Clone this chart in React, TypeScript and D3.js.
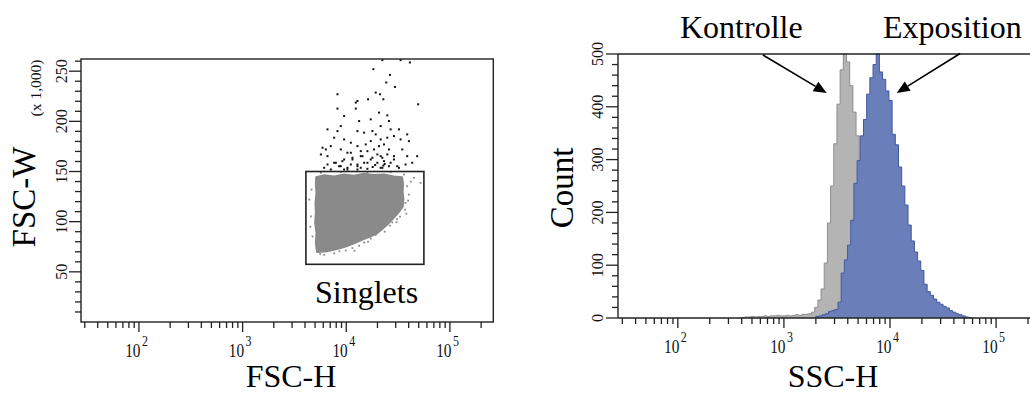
import React from "react";
import * as d3 from "d3";

const FONT = '"Liberation Serif", "Times New Roman", Times, serif';
const W = 1030;
const H = 396;

// ---- FSC-H vs FSC-W dot plot -------------------------------------------
// Dense singlet population, outlined as [FSC-H, FSC-W]
const singletOutline: [number, number][] = [
  [5100, 144500], [6124, 146500], [7640, 145300], [9530, 147300], [11900, 146000],
  [14860, 148000], [18540, 146700], [23120, 147300], [28850, 145300], [34700, 144500],
  [35500, 138000], [35200, 130000], [35800, 122000], [35200, 114600], [32500, 110000],
  [29400, 104700], [25000, 97000], [20200, 88700], [17000, 85000], [14150, 81700],
  [11800, 78000], [9700, 74700], [7800, 72000], [6220, 70000], [5200, 69500],
  [5060, 78700], [5130, 88700], [4980, 98700], [5060, 108700], [5020, 118700],
  [5130, 128700], [5060, 137000],
];

// Sparse singlet events around the dense core
const singletSpeckles: [number, number][] = [
  [38730, 135300], [40180, 127000], [37330, 118700], [36900, 112000], [33050, 105000],
  [27800, 99300], [26400, 96000], [21480, 91700], [19230, 86700], [17220, 83300],
  [14860, 79300], [13300, 76000], [11480, 73700], [9900, 71300], [7640, 68500],
  [6124, 67000], [4560, 105300], [4730, 85300], [4400, 122000], [5690, 148700],
  [8850, 149300], [16000, 149500], [26790, 149300], [44980, 143700], [52120, 138700],
  [38000, 108000], [30500, 99500], [23500, 90000], [4500, 95000], [4620, 132000],
  [42000, 140000], [36000, 147000], [12000, 71000], [16200, 80000], [39500, 121000],
  [31000, 102500], [8600, 70500], [5600, 67800],
];

// Doublet events above the gate
const doubletEvents: [number, number][] = [
  [22290, 261000], [33440, 261000], [41100, 258700], [18280, 252000], [26400, 246300],
  [24320, 238700], [29500, 234300], [8226, 227000], [19240, 228700], [21170, 227000],
  [12820, 220300], [12360, 218700], [16220, 222000], [22790, 222000], [49400, 217000],
  [8226, 212700], [12360, 212700], [20700, 208700], [24880, 206000], [17220, 202000],
  [9537, 205300], [6590, 192000], [8857, 195300], [8226, 190300], [13310, 200300],
  [12820, 190300], [14860, 188700], [17870, 190300], [21480, 195300], [25810, 200300],
  [26790, 192000], [32230, 192000], [38730, 187000], [40190, 180300], [33440, 182000],
  [28850, 185300], [24880, 183700], [21480, 182000], [19240, 187000], [17220, 180300],
  [15420, 177000], [12820, 175300], [11070, 178700], [9537, 182000], [7640, 183700],
  [6353, 172000], [5902, 173700], [7096, 175300], [8857, 172000], [10260, 168700],
  [9537, 162000], [11480, 163700], [13800, 165300], [16000, 170300], [18540, 172000],
  [20700, 175300], [23120, 177000], [25810, 172000], [22290, 163700], [28850, 165300],
  [34700, 172000], [38730, 165300], [48310, 165300], [26790, 158700], [19960, 158700],
  [17220, 162000], [14860, 158700], [12820, 155300], [11070, 157000], [8857, 155300],
  [7640, 158700], [6590, 165300], [10260, 152000], [13800, 153700], [22290, 153700],
  [31060, 155300], [37360, 157000], [43270, 158700],
  [5690, 167000], [6590, 157000], [7930, 158700], [8530, 155300], [9180, 160300],
  [10270, 153700], [11480, 162000], [12820, 157000], [14320, 165300], [16000, 158700],
  [17870, 163700], [19960, 167000], [21480, 165300], [23120, 160300], [25810, 155300],
  [28850, 162000], [32230, 153700], [7096, 152000], [6124, 153700], [9530, 152000],
  [16000, 152700], [21480, 153700], [12820, 152000], [24880, 167000], [11070, 168700],
  [13800, 170300], [22800, 156000], [23500, 157500], [18000, 154500], [19000, 156500],
];

// Rectangular singlet gate: FSC-H range and FSC-W range
const gateFscH: [number, number] = [4080, 56100];
const gateFscW: [number, number] = [57500, 150000];

const fscWTickLabels = [50, 100, 150, 200, 250]; // in thousands
const decadeExponents = [2, 3, 4, 5];

// ---- SSC-H histograms (log-spaced bins, step in decades) ---------------
const binStep = 0.03;
const kontrolleStart = 2.6;
const kontrolleCounts = [
  1, 2, 2, 3, 2, 3, 3, 4, 3, 4, 4, 5, 4, 4, 5, 4, 5, 6, 5, 7,
  7, 8, 11, 20, 34, 55, 104, 180, 250, 330, 405, 470, 500, 485, 440, 390, 345, 300, 250, 200,
  150, 110, 75, 50, 32, 20, 12, 7, 4, 2,
];
const expositionStart = 3.3;
const expositionCounts = [
  3, 4, 6, 8, 12, 14, 16, 30, 85, 110, 138, 185, 255, 298, 345, 376, 424, 455, 480, 500,
  466, 452, 430, 412, 348, 328, 286, 250, 214, 176, 146, 125, 108, 90, 64, 50, 43, 36, 30, 26,
  22, 19, 14, 11, 8, 6, 4, 2, 1,
];
const countTickLabels = [0, 100, 200, 300, 400, 500];

// Annotation arrows: [SSC-H, Count] tail -> tip
const kontrolleArrow: [number, number][] = [[634, 498], [2530, 426]];
const expositionArrow: [number, number][] = [[45800, 501], [11560, 426]];

function logTicks(scale: d3.ScaleLogarithmic<number, number>) {
  return scale.ticks().filter((v) => v >= scale.domain()[0] && v <= scale.domain()[1]);
}

function isDecade(v: number) {
  const e = Math.log10(v);
  return Math.abs(e - Math.round(e)) < 1e-9;
}

function histPoints(start: number, counts: number[]) {
  const pts: [number, number][] = [[Math.pow(10, start), 0]];
  counts.forEach((c, i) => pts.push([Math.pow(10, start + i * binStep), c]));
  pts.push([Math.pow(10, start + counts.length * binStep), 0]);
  return pts;
}

function XAxis({ scale, y, x1 }: { scale: d3.ScaleLogarithmic<number, number>; y: number; x1: number }) {
  const ticks = logTicks(scale);
  return (
    <g>
      {ticks.map((v, i) => {
        const x = scale(v);
        if (x > x1) return null;
        const major = isDecade(v);
        return <line key={i} x1={x} x2={x} y1={y} y2={y + (major ? 10 : 6)} stroke="#222" strokeWidth={1.3} />;
      })}
      {decadeExponents.map((e) => {
        const x = scale(Math.pow(10, e));
        return (
          <g key={e} fontFamily={FONT} fill="#111">
            <text transform={`translate(${x + 1.5},${y + 35}) scale(0.85,1)`} fontSize={18} textAnchor="end">10</text>
            <text transform={`translate(${x + 3},${y + 24}) scale(0.85,1)`} fontSize={14}>{e}</text>
          </g>
        );
      })}
    </g>
  );
}

export default function App() {
  // left panel scales
  const lx = d3.scaleLog().domain([27.6, 262144]).range([81, 493.3]);
  const ly = d3.scaleLinear().domain([0, 262144]).range([322, 59]);
  // right panel scales
  const rx = d3.scaleLog().domain([27.3, 262144]).range([618, 1040.5]);
  const ry = d3.scaleLinear().domain([0, 500]).range([318, 54]);

  const cloud = d3
    .line<[number, number]>()
    .x((d) => lx(d[0]))
    .y((d) => ly(d[1]))
    .curve(d3.curveLinearClosed)(singletOutline) as string;

  const area = d3
    .area<[number, number]>()
    .x((d) => rx(d[0]))
    .y0(ry(0))
    .y1((d) => ry(d[1]))
    .curve(d3.curveStepAfter);
  const outline = d3
    .line<[number, number]>()
    .x((d) => rx(d[0]))
    .y((d) => ry(d[1]))
    .curve(d3.curveStepAfter);

  const kPts = histPoints(kontrolleStart, kontrolleCounts);
  const ePts = histPoints(expositionStart, expositionCounts);

  const fscWMinor = d3.range(10000, 262144, 10000);
  const countMinor = d3.range(0, 501, 20);

  const arrow = (pts: [number, number][], key: string) => {
    const [x0, y0] = [rx(pts[0][0]), ry(pts[0][1])];
    const [x1, y1] = [rx(pts[1][0]), ry(pts[1][1])];
    const ang = Math.atan2(y1 - y0, x1 - x0);
    const len = 13;
    const half = 5.5;
    const bx = x1 - len * Math.cos(ang);
    const by = y1 - len * Math.sin(ang);
    const px = -Math.sin(ang) * half;
    const py = Math.cos(ang) * half;
    return (
      <g key={key}>
        <line x1={x0} y1={y0} x2={bx} y2={by} stroke="#000" strokeWidth={1.6} />
        <polygon points={`${x1},${y1} ${bx + px},${by + py} ${bx - px},${by - py}`} fill="#000" />
      </g>
    );
  };

  const yLabel = (x: number, y: number, v: number) => (
    <text
      key={v}
      transform={`translate(${x},${y}) rotate(-90)`}
      textAnchor="middle"
      fontFamily={FONT}
      fontSize={16}
      fill="#111"
    >
      {v}
    </text>
  );

  return (
    <svg width={W} height={H} style={{ position: "absolute", left: 0, top: 0, background: "#fff" }}>
      <defs>
        <clipPath id="rightPlot">
          <rect x={618} y={40} width={W - 618} height={318 - 40} />
        </clipPath>
      </defs>

      {/* ---------- left: FSC-H vs FSC-W ---------- */}
      <path d={cloud} fill="#8a8a8a" stroke="#8a8a8a" strokeWidth={1.5} strokeLinejoin="round" />
      {singletSpeckles.map((d, i) => (
        <rect key={i} x={lx(d[0]) - 0.9} y={ly(d[1]) - 0.9} width={1.8} height={1.8} fill="#8a8a8a" />
      ))}
      {doubletEvents.map((d, i) => (
        <rect key={i} x={lx(d[0]) - 1} y={ly(d[1]) - 1} width={2} height={2} fill="#111" />
      ))}
      <rect
        x={lx(gateFscH[0])}
        y={ly(gateFscW[1])}
        width={lx(gateFscH[1]) - lx(gateFscH[0])}
        height={ly(gateFscW[0]) - ly(gateFscW[1])}
        fill="none"
        stroke="#222"
        strokeWidth={1.6}
      />
      <text x={315} y={303} fontFamily={FONT} fontSize={32} fill="#000">Singlets</text>

      <rect x={81} y={59} width={412.3} height={263} fill="none" stroke="#222" strokeWidth={1.4} />
      {fscWMinor.map((v) => {
        const major = v % 50000 === 0;
        return (
          <line key={v} x1={81 - (major ? 12 : 6)} x2={81} y1={ly(v)} y2={ly(v)} stroke="#222" strokeWidth={1.3} />
        );
      })}
      {fscWTickLabels.map((v) => yLabel(67, ly(v * 1000), v))}
      <XAxis scale={lx} y={322} x1={493.3} />
      <text transform="translate(35,197) rotate(-90)" textAnchor="middle" fontFamily={FONT} fontSize={33} fill="#000">
        FSC-W
      </text>
      <text transform="translate(41,88) rotate(-90)" textAnchor="middle" fontFamily={FONT} fontSize={15.5} fill="#111">
        (x 1,000)
      </text>
      <text x={291} y={387} textAnchor="middle" fontFamily={FONT} fontSize={32} fill="#000">
        FSC-H
      </text>

      {/* ---------- right: SSC-H histograms ---------- */}
      <g clipPath="url(#rightPlot)">
        <path d={area(kPts) as string} fill="#b4b4b4" />
        <path d={outline(kPts) as string} fill="none" stroke="#8e8e8e" strokeWidth={1} />
        <path d={area(ePts) as string} fill="#6a7fba" />
        <path d={outline(ePts) as string} fill="none" stroke="#40589f" strokeWidth={1} />
      </g>
      <line x1={618} x2={W} y1={54} y2={54} stroke="#222" strokeWidth={1.4} />
      <line x1={618} x2={618} y1={54} y2={318} stroke="#222" strokeWidth={1.4} />
      <line x1={618} x2={W} y1={318} y2={318} stroke="#222" strokeWidth={1.4} />
      {countMinor.map((v) => {
        const major = v % 100 === 0;
        return (
          <line key={v} x1={618 - (major ? 12 : 6)} x2={618} y1={ry(v)} y2={ry(v)} stroke="#222" strokeWidth={1.3} />
        );
      })}
      {countTickLabels.map((v) => yLabel(603, ry(v), v))}
      <XAxis scale={rx} y={318} x1={W} />
      <text transform="translate(573,188) rotate(-90)" textAnchor="middle" fontFamily={FONT} fontSize={33} fill="#000">
        Count
      </text>
      <text x={833} y={387} textAnchor="middle" fontFamily={FONT} fontSize={32} fill="#000">
        SSC-H
      </text>

      <text x={680} y={38} fontFamily={FONT} fontSize={32} fill="#000">Kontrolle</text>
      <text x={883} y={38} fontFamily={FONT} fontSize={32} fill="#000">Exposition</text>
      {arrow(kontrolleArrow, "k")}
      {arrow(expositionArrow, "e")}
    </svg>
  );
}
